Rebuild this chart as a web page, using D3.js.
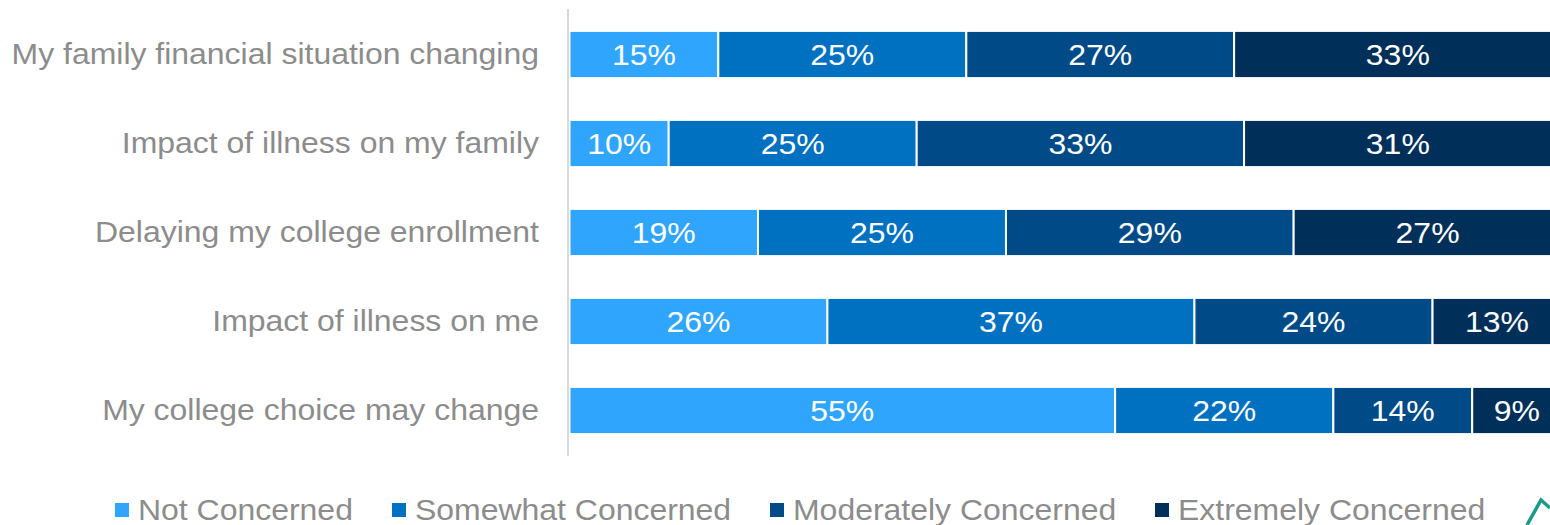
<!DOCTYPE html>
<html>
<head>
<meta charset="utf-8">
<script src="https://cdn.jsdelivr.net/npm/d3@7"></script>
<style>
  html, body { margin: 0; padding: 0; background: #ffffff; overflow: hidden; }
  svg { display: block; }
  text { font-family: "Liberation Sans", Arial, sans-serif; }
</style>
</head>
<body>
<svg id="chart" width="1550" height="525"></svg>
<script>
const categories = [
  "My family financial situation changing",
  "Impact of illness on my family",
  "Delaying my college enrollment",
  "Impact of illness on me",
  "My college choice may change"
];
const seriesNames = ["Not Concerned", "Somewhat Concerned", "Moderately Concerned", "Extremely Concerned"];
const notConcerned        = [15, 10, 19, 26, 55];
const somewhatConcerned   = [25, 25, 25, 37, 22];
const moderatelyConcerned = [27, 33, 29, 24, 14];
const extremelyConcerned  = [33, 31, 27, 13, 9];
const seriesColors = ["#2fa5fd", "#0070c0", "#004b87", "#002f5a"];

const rows = categories.map((c, i) => ({
  category: c,
  "Not Concerned": notConcerned[i],
  "Somewhat Concerned": somewhatConcerned[i],
  "Moderately Concerned": moderatelyConcerned[i],
  "Extremely Concerned": extremelyConcerned[i]
}));

const FONT = 30;
const STRETCH = 1.065;
function widen(sel) {
  sel.each(function () {
    const w = this.getComputedTextLength();
    d3.select(this).attr("textLength", w * STRETCH).attr("lengthAdjust", "spacingAndGlyphs");
  });
}

const svg = d3.select("#chart");
const x0 = 569.5;
const x = d3.scaleLinear().domain([0, 100]).range([x0, x0 + 992]);
const y = d3.scaleBand().domain(categories).range([10, 455]).paddingInner(0.47).paddingOuter(0.235);
const color = d3.scaleOrdinal().domain(seriesNames).range(seriesColors);

const stacked = d3.stack().keys(seriesNames)(rows);

const groups = svg.append("g").selectAll("g")
  .data(stacked).join("g")
  .attr("fill", d => color(d.key));

groups.selectAll("rect")
  .data(d => d)
  .join("rect")
  .attr("x", d => x(d[0]))
  .attr("y", d => y(d.data.category))
  .attr("width", d => x(d[1]) - x(d[0]))
  .attr("height", y.bandwidth())
  .attr("stroke", "#ffffff")
  .attr("stroke-width", 2);

groups.selectAll("text")
  .data(d => d)
  .join("text")
  .attr("x", d => (x(d[0]) + x(d[1])) / 2)
  .attr("y", d => y(d.data.category) + y.bandwidth() / 2)
  .attr("dy", "0.36em")
  .attr("text-anchor", "middle")
  .attr("fill", "#ffffff")
  .style("font-size", FONT + "px")
  .text(d => (d[1] - d[0]) + "%")
  .call(widen);

// vertical axis line + category labels
const yAxis = d3.axisLeft(y).tickSize(0).tickPadding(29);
const ax = svg.append("g").attr("transform", `translate(${x0 - 1.5},0)`).call(yAxis);
ax.select(".domain").attr("d", "M0,9V456").attr("stroke", "#d9d9d9").attr("stroke-width", 2);
ax.selectAll("text")
  .attr("fill", "#8c8c8c")
  .style("font-size", FONT + "px")
  .style("font-family", '"Liberation Sans", Arial, sans-serif')
  .call(widen);

// legend
const legendX = [115, 392, 770, 1155];
const legend = svg.append("g").selectAll("g")
  .data(seriesNames).join("g")
  .attr("transform", (d, i) => `translate(${legendX[i]},0)`);
legend.append("rect")
  .attr("x", 0).attr("y", 503).attr("width", 14).attr("height", 14)
  .attr("fill", d => color(d));
legend.append("text")
  .attr("x", 23).attr("y", 520)
  .attr("fill", "#8c8c8c")
  .style("font-size", FONT + "px")
  .text(d => d)
  .call(widen);

// partial logo at bottom-right
svg.append("path")
  .attr("d", "M1527,525 L1541,500 L1550,508")
  .attr("fill", "none")
  .attr("stroke", "#1a9a8a")
  .attr("stroke-width", 3.5);
</script>
</body>
</html>
